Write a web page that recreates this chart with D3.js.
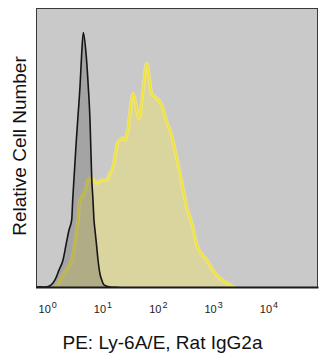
<!DOCTYPE html>
<html><head><meta charset="utf-8">
<script src="https://cdn.jsdelivr.net/npm/d3@7"></script>
<style>html,body{margin:0;padding:0;background:#fff;}svg{display:block;}</style>
</head><body>
<script>
// log10 fluorescence positions and relative counts
const isoLogFL = [-0.2025,-0.130,-0.040,0.051,0.141,0.213,0.286,0.340,0.394,0.443,0.461,0.494,0.521,0.552,0.593,0.624,0.653,0.702,0.743,0.774,0.805,0.828,0.846,0.864,0.892,0.919,0.955,0.986,1.027,1.136,1.280,1.407];
const isoCounts = [0.3,0.4,0.3,0.8,2.9,6.4,10,15.4,20.7,24.3,31.4,42.1,51,60,71.9,83.8,91.2,83.8,71.9,60,39.3,31.4,24.3,20.7,15.4,10,5,2.9,1.1,0.35,0.2,0];
const ly6LogFL = [0.141,0.195,0.231,0.340,0.443,0.533,0.557,0.593,0.684,0.738,0.792,0.864,0.901,0.986,1.081,1.136,1.190,1.226,1.262,1.280,1.335,1.371,1.407,1.461,1.497,1.557,1.606,1.665,1.732,1.799,1.841,1.890,1.980,2.071,2.161,2.251,2.311,2.401,2.523,2.613,2.672,2.703,2.884,3.065,3.246,3.396];
const ly6Counts = [0,1.4,2.9,6.4,10,20.7,24.3,31.4,34.6,38.6,39.3,38,37.5,38.6,38.6,41.1,43.2,46.9,51.1,52.2,53.2,53.6,52.9,57.1,62.9,69.5,65.4,60.6,70.7,80.3,76.1,69.5,67.8,65.4,59.4,54.6,49.3,41.1,29,23.2,18.3,15.4,10,4.6,1.8,0];
const tickExponents = [0,1,2,3,4];
const xTitle = "PE: Ly-6A/E, Rat IgG2a";
const yTitle = "Relative Cell Number";

const W = 325, H = 360;
const L = 36, R = 318, T = 8, B = 288;
const svg = d3.select("body").append("svg").attr("width", W).attr("height", H);

const x = d3.scaleLog().domain([Math.pow(10,-0.2025), Math.pow(10,4.897)]).range([L, R]);
const y = d3.scaleLinear().domain([0, 100]).range([B, T]);

svg.append("rect").attr("x", L).attr("y", T).attr("width", R-L).attr("height", B-T).attr("fill", "#c9c9c9");

const defs = svg.append("defs");
defs.append("clipPath").attr("id","clip").append("rect").attr("x", L).attr("y", T).attr("width", R-L).attr("height", B-T);
const f = defs.append("filter").attr("id","glow").attr("x","-10%").attr("y","-10%").attr("width","120%").attr("height","120%");
f.append("feGaussianBlur").attr("stdDeviation", 0.6);

const g = svg.append("g").attr("clip-path","url(#clip)");

const ly6 = ly6LogFL.map((v,i)=>({x:Math.pow(10,v), y:ly6Counts[i]}));
const iso = isoLogFL.map((v,i)=>({x:Math.pow(10,v), y:isoCounts[i]}));

const area = d3.area().x(d=>x(d.x)).y0(y(0)).y1(d=>y(d.y)).curve(d3.curveMonotoneX);
const line = d3.line().x(d=>x(d.x)).y(d=>y(d.y)).curve(d3.curveMonotoneX);

g.append("path").attr("d", area(ly6)).attr("fill", "rgba(242,228,100,0.42)");
g.append("path").attr("d", line(ly6)).attr("fill","none").attr("stroke","rgba(255,245,120,0.55)").attr("stroke-width",3.5).attr("filter","url(#glow)");
g.append("path").attr("d", line(ly6)).attr("fill","none").attr("stroke","#f3e22c").attr("stroke-width",1.7);

g.append("path").attr("d", area(iso)).attr("fill", "rgba(80,80,80,0.3)");
g.append("path").attr("d", line(iso)).attr("fill","none").attr("stroke","#151515").attr("stroke-width",1.6).attr("stroke-linejoin","round");

// frame
svg.append("rect").attr("x", L+0.5).attr("y", T+0.5).attr("width", R-L-1).attr("height", B-T-1).attr("fill","none").attr("stroke","#3a3a3a").attr("stroke-width",1);
svg.append("line").attr("x1", L).attr("x2", R+0.5).attr("y1", B-0.5).attr("y2", B-0.5).attr("stroke","#1a1a1a").attr("stroke-width",2);

// x axis
const ax = d3.axisBottom(x).tickValues(tickExponents.map(e=>Math.pow(10,e))).tickSize(0).tickPadding(17.5).tickFormat(()=> "10");
const axG = svg.append("g").attr("transform", `translate(0,${B})`).call(ax);
axG.select(".domain").remove();
axG.selectAll(".tick text")
  .attr("font-family","Liberation Sans, Arial, sans-serif").attr("font-size", 11).attr("fill","#222")
  .each(function(d,i){
    d3.select(this).append("tspan").attr("dx", 1).attr("dy","-0.6em").attr("font-size", 9).text(tickExponents[i]);
  });

svg.append("text").attr("x", 162.5).attr("y", 349).attr("text-anchor","middle")
  .attr("font-family","Liberation Sans, Arial, sans-serif").attr("font-size", 19).attr("fill","#111").text(xTitle);
svg.append("text").attr("transform","translate(26,146) rotate(-90)").attr("text-anchor","middle")
  .attr("font-family","Liberation Sans, Arial, sans-serif").attr("font-size", 19).attr("fill","#111").text(yTitle);
</script>
</body></html>
